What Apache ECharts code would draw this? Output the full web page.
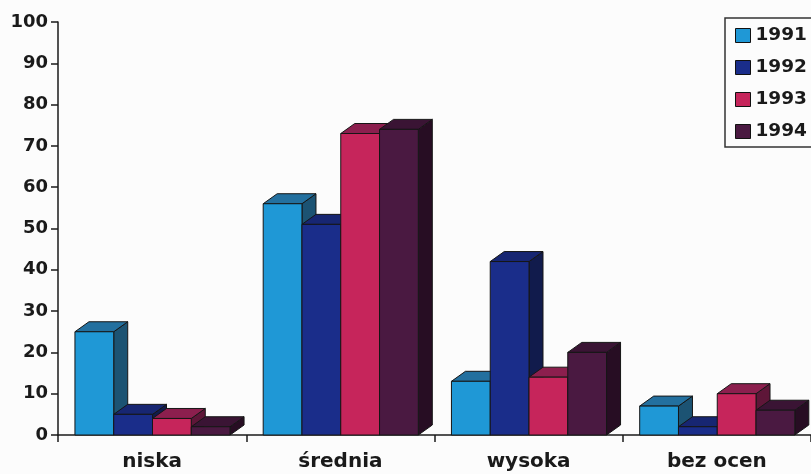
<!DOCTYPE html>
<html>
<head>
<meta charset="utf-8">
<script src="https://cdn.jsdelivr.net/npm/echarts@6/dist/echarts.min.js"></script>
<style>
  html, body { margin: 0; padding: 0; background: #fcfcfc; }
  #chart { width: 811px; height: 474px; }
</style>
</head>
<body>
<div id="chart"></div>
<script>
// Categories and yearly values (percent)
const categories = ['niska', 'średnia', 'wysoka', 'bez ocen'];
const years = ['1991', '1992', '1993', '1994'];
const values1991 = [25, 56, 13, 7];
const values1992 = [5, 51, 42, 2];
const values1993 = [4, 73, 14, 10];
const values1994 = [2, 74, 20, 6];
const yTicks = [0, 10, 20, 30, 40, 50, 60, 70, 80, 90, 100];

const seriesValues = [values1991, values1992, values1993, values1994];

// Face shades per series: front, top, side
const shades = [
  { front: '#1f98d6', top: '#23709f', side: '#1c5373' },
  { front: '#1a2d8a', top: '#172672', side: '#111b4c' },
  { front: '#c6255b', top: '#8c1f4e', side: '#5e1638' },
  { front: '#4a1941', top: '#3a1434', side: '#270d23' }
];

const EDGE = '#161616';
const DEPTH_X = 14, DEPTH_Y = 10;

function renderBox(params, api) {
  const si = params.seriesIndex;
  const cat = api.value(0);
  const val = api.value(1);
  const base = api.coord([cat, 0]);
  const top = api.coord([cat, val]);
  const band = api.size([1, 0])[0];
  const bw = band * 0.206;
  const x0 = base[0] - band / 2 + band * 0.09 + si * bw;
  const x1 = x0 + bw;
  const yb = base[1];
  const yt = top[1];
  const s = shades[si];
  const line = { stroke: EDGE, lineWidth: 1, lineJoin: 'round' };
  return {
    type: 'group',
    children: [
      {
        type: 'polygon',
        shape: { points: [[x1, yb], [x1 + DEPTH_X, yb - DEPTH_Y], [x1 + DEPTH_X, yt - DEPTH_Y], [x1, yt]] },
        style: Object.assign({ fill: s.side }, line)
      },
      {
        type: 'polygon',
        shape: { points: [[x0, yt], [x0 + DEPTH_X, yt - DEPTH_Y], [x1 + DEPTH_X, yt - DEPTH_Y], [x1, yt]] },
        style: Object.assign({ fill: s.top }, line)
      },
      {
        type: 'rect',
        shape: { x: x0, y: yt, width: bw, height: yb - yt },
        style: Object.assign({ fill: s.front }, line)
      }
    ]
  };
}

const FONT = 'DejaVu Sans';

const chart = echarts.init(document.getElementById('chart'), null, { renderer: 'canvas' });

chart.setOption({
  backgroundColor: '#fcfcfc',
  animation: false,
  grid: { left: 58, top: 22, bottom: 39, width: 762, containLabel: false },
  legend: {
    orient: 'vertical',
    left: 725,
    top: 18,
    padding: [8, 24, 6, 10],
    itemWidth: 15,
    itemHeight: 14,
    itemGap: 13,
    icon: 'rect',
    borderColor: '#333',
    borderWidth: 1.5,
    backgroundColor: '#fcfcfc',
    itemStyle: { borderColor: '#111', borderWidth: 1 },
    textStyle: { fontFamily: FONT, fontWeight: 'bold', fontSize: 18.5, color: '#1a1a1a' },
    data: years
  },
  xAxis: {
    type: 'category',
    data: categories,
    boundaryGap: true,
    axisLine: { lineStyle: { color: '#1a1a1a', width: 1.5 } },
    axisTick: { show: true, inside: false, length: 7, alignWithLabel: false, lineStyle: { color: '#1a1a1a', width: 1.5 } },
    axisLabel: { fontFamily: FONT, fontWeight: 'bold', fontSize: 20, color: '#1a1a1a', margin: 17 },
    splitLine: { show: false }
  },
  yAxis: {
    type: 'value',
    min: yTicks[0],
    max: yTicks[yTicks.length - 1],
    interval: 10,
    axisLine: { show: true, lineStyle: { color: '#1a1a1a', width: 1.5 } },
    axisTick: { show: true, inside: false, length: 7, lineStyle: { color: '#1a1a1a', width: 1.5 } },
    axisLabel: { fontFamily: FONT, fontWeight: 'bold', fontSize: 18, color: '#1a1a1a', margin: 10 },
    splitLine: { show: false }
  },
  series: years.map((name, i) => ({
    name: name,
    type: 'custom',
    renderItem: renderBox,
    itemStyle: { color: shades[i].front },
    encode: { x: 0, y: 1 },
    clip: false,
    data: seriesValues[i].map((v, c) => [c, v])
  }))
});
</script>
</body>
</html>
